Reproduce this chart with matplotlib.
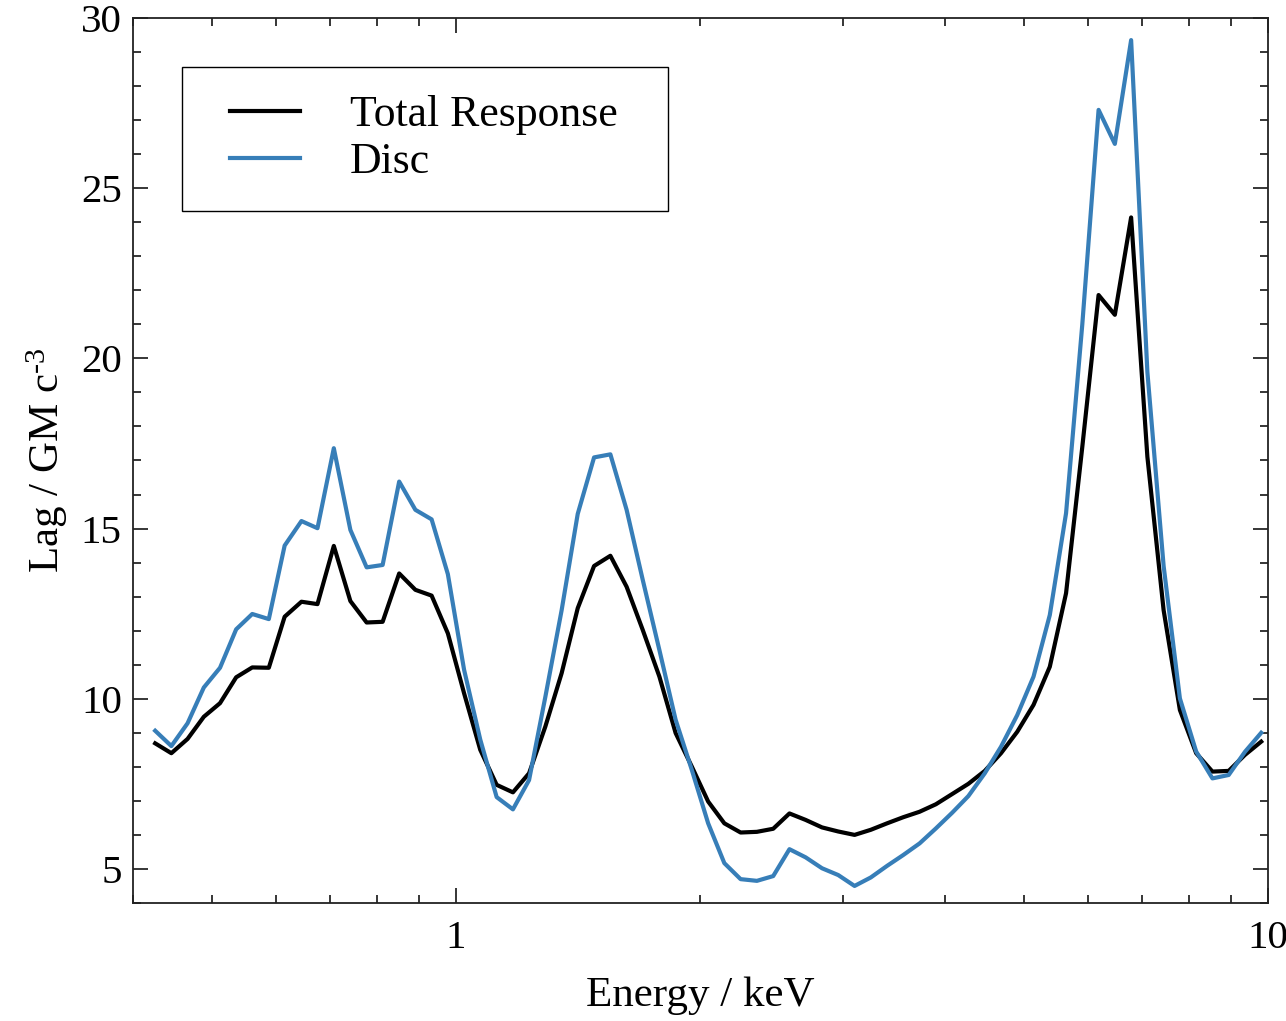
import matplotlib
matplotlib.use('Agg')
import matplotlib.pyplot as plt
from matplotlib.legend_handler import HandlerLine2D
from matplotlib.ticker import FixedLocator, MultipleLocator, NullFormatter, FixedFormatter

plt.rcParams['font.family'] = ['Liberation Serif', 'DejaVu Serif']
plt.rcParams['mathtext.fontset'] = 'custom'
plt.rcParams['mathtext.rm'] = 'Liberation Serif'
plt.rcParams['mathtext.it'] = 'Liberation Serif:italic'

# energy grid (keV)
energy = [0.426, 0.446, 0.467, 0.489, 0.512, 0.536, 0.561, 0.588, 0.615, 0.645,
          0.675, 0.707, 0.741, 0.776, 0.812, 0.851, 0.891, 0.933, 0.977, 1.023,
          1.071, 1.122, 1.175, 1.230, 1.288, 1.349, 1.412, 1.479, 1.549, 1.622,
          1.698, 1.780, 1.864, 1.952, 2.044, 2.140, 2.241, 2.347, 2.458, 2.574,
          2.695, 2.823, 2.956, 3.096, 3.242, 3.395, 3.555, 3.723, 3.899, 4.083,
          4.275, 4.479, 4.690, 4.911, 5.143, 5.386, 5.640, 5.906, 6.185, 6.477,
          6.783, 7.103, 7.438, 7.789, 8.157, 8.542, 8.945, 9.367, 9.809]

# lag, total response
lag_total = [8.69, 8.40, 8.82, 9.47, 9.87, 10.63, 10.92, 10.91, 12.41, 12.85,
             12.78, 14.49, 12.87, 12.24, 12.26, 13.68, 13.20, 13.03, 11.92, 10.16,
             8.50, 7.47, 7.25, 7.81, 9.18, 10.75, 12.66, 13.90, 14.20, 13.29,
             12.02, 10.65, 8.99, 8.00, 6.98, 6.34, 6.07, 6.09, 6.18, 6.63,
             6.44, 6.22, 6.10, 6.00, 6.15, 6.34, 6.52, 6.68, 6.90, 7.20,
             7.50, 7.88, 8.40, 9.03, 9.82, 10.94, 13.10, 17.40, 21.86, 21.28,
             24.14, 17.11, 12.60, 9.67, 8.40, 7.86, 7.88, 8.35, 8.74]

# lag, disc only
lag_disc = [9.06, 8.61, 9.28, 10.33, 10.91, 12.04, 12.49, 12.34, 14.50, 15.22,
            15.01, 17.36, 14.96, 13.86, 13.93, 16.38, 15.55, 15.27, 13.66, 10.85,
            8.80, 7.11, 6.75, 7.61, 10.05, 12.60, 15.43, 17.09, 17.18, 15.55,
            13.49, 11.43, 9.38, 7.90, 6.34, 5.17, 4.70, 4.65, 4.79, 5.58,
            5.34, 5.02, 4.82, 4.50, 4.75, 5.09, 5.41, 5.75, 6.19, 6.65,
            7.14, 7.81, 8.59, 9.52, 10.65, 12.46, 15.45, 21.00, 27.30, 26.30,
            29.35, 19.60, 13.90, 10.01, 8.45, 7.66, 7.76, 8.44, 9.00]

fig = plt.figure(figsize=(12.86, 10.21), dpi=100)
ax = fig.add_axes([0.1034, 0.1156, 0.8826, 0.8668])

ax.plot(energy, lag_total, color='black', lw=3.0, label='Total Response')
ax.plot(energy, lag_disc, color='#377eb8', lw=3.0, label='Disc')

ax.set_xscale('log')
ax.set_xlim(0.4, 10)
ax.set_ylim(4, 30)

ax.xaxis.set_major_locator(FixedLocator([1, 10]))
ax.xaxis.set_major_formatter(FixedFormatter(['1', '10']))
ax.xaxis.set_minor_locator(FixedLocator([0.4, 0.5, 0.6, 0.7, 0.8, 0.9,
                                         2, 3, 4, 5, 6, 7, 8, 9]))
ax.xaxis.set_minor_formatter(NullFormatter())
ax.yaxis.set_major_locator(MultipleLocator(5))
ax.yaxis.set_minor_locator(MultipleLocator(1))

ax.tick_params(which='both', direction='in', top=True, right=True,
               labelsize=29.5, colors='black')
ax.tick_params(which='major', length=11, width=1.1)
ax.tick_params(which='minor', length=6, width=1.1)
ax.tick_params(axis='x', pad=12)
ax.tick_params(axis='y', pad=8)
for s in ax.spines.values():
    s.set_linewidth(1.3)
    s.set_color('#222222')

ax.set_xlabel('Energy / keV', fontsize=31, labelpad=14)
ax.set_ylabel(r'Lag / GM c$^{\text{-3}}$', fontsize=31, labelpad=8)

# legend box spans a fixed region in the upper left
leg = ax.legend(loc='upper left', bbox_to_anchor=(0.0432, 0.0, 0.4282, 0.9446),
                mode='expand', borderaxespad=0.0, fontsize=31.5, frameon=True,
                fancybox=False, edgecolor='black', framealpha=1,
                handlelength=2.05, handletextpad=1.14, labelspacing=0.16,
                borderpad=0.65,
                handler_map={plt.Line2D: HandlerLine2D(xpad=0.45)})
leg.get_frame().set_linewidth(1.0)

fig.savefig('out.png', dpi=100)
